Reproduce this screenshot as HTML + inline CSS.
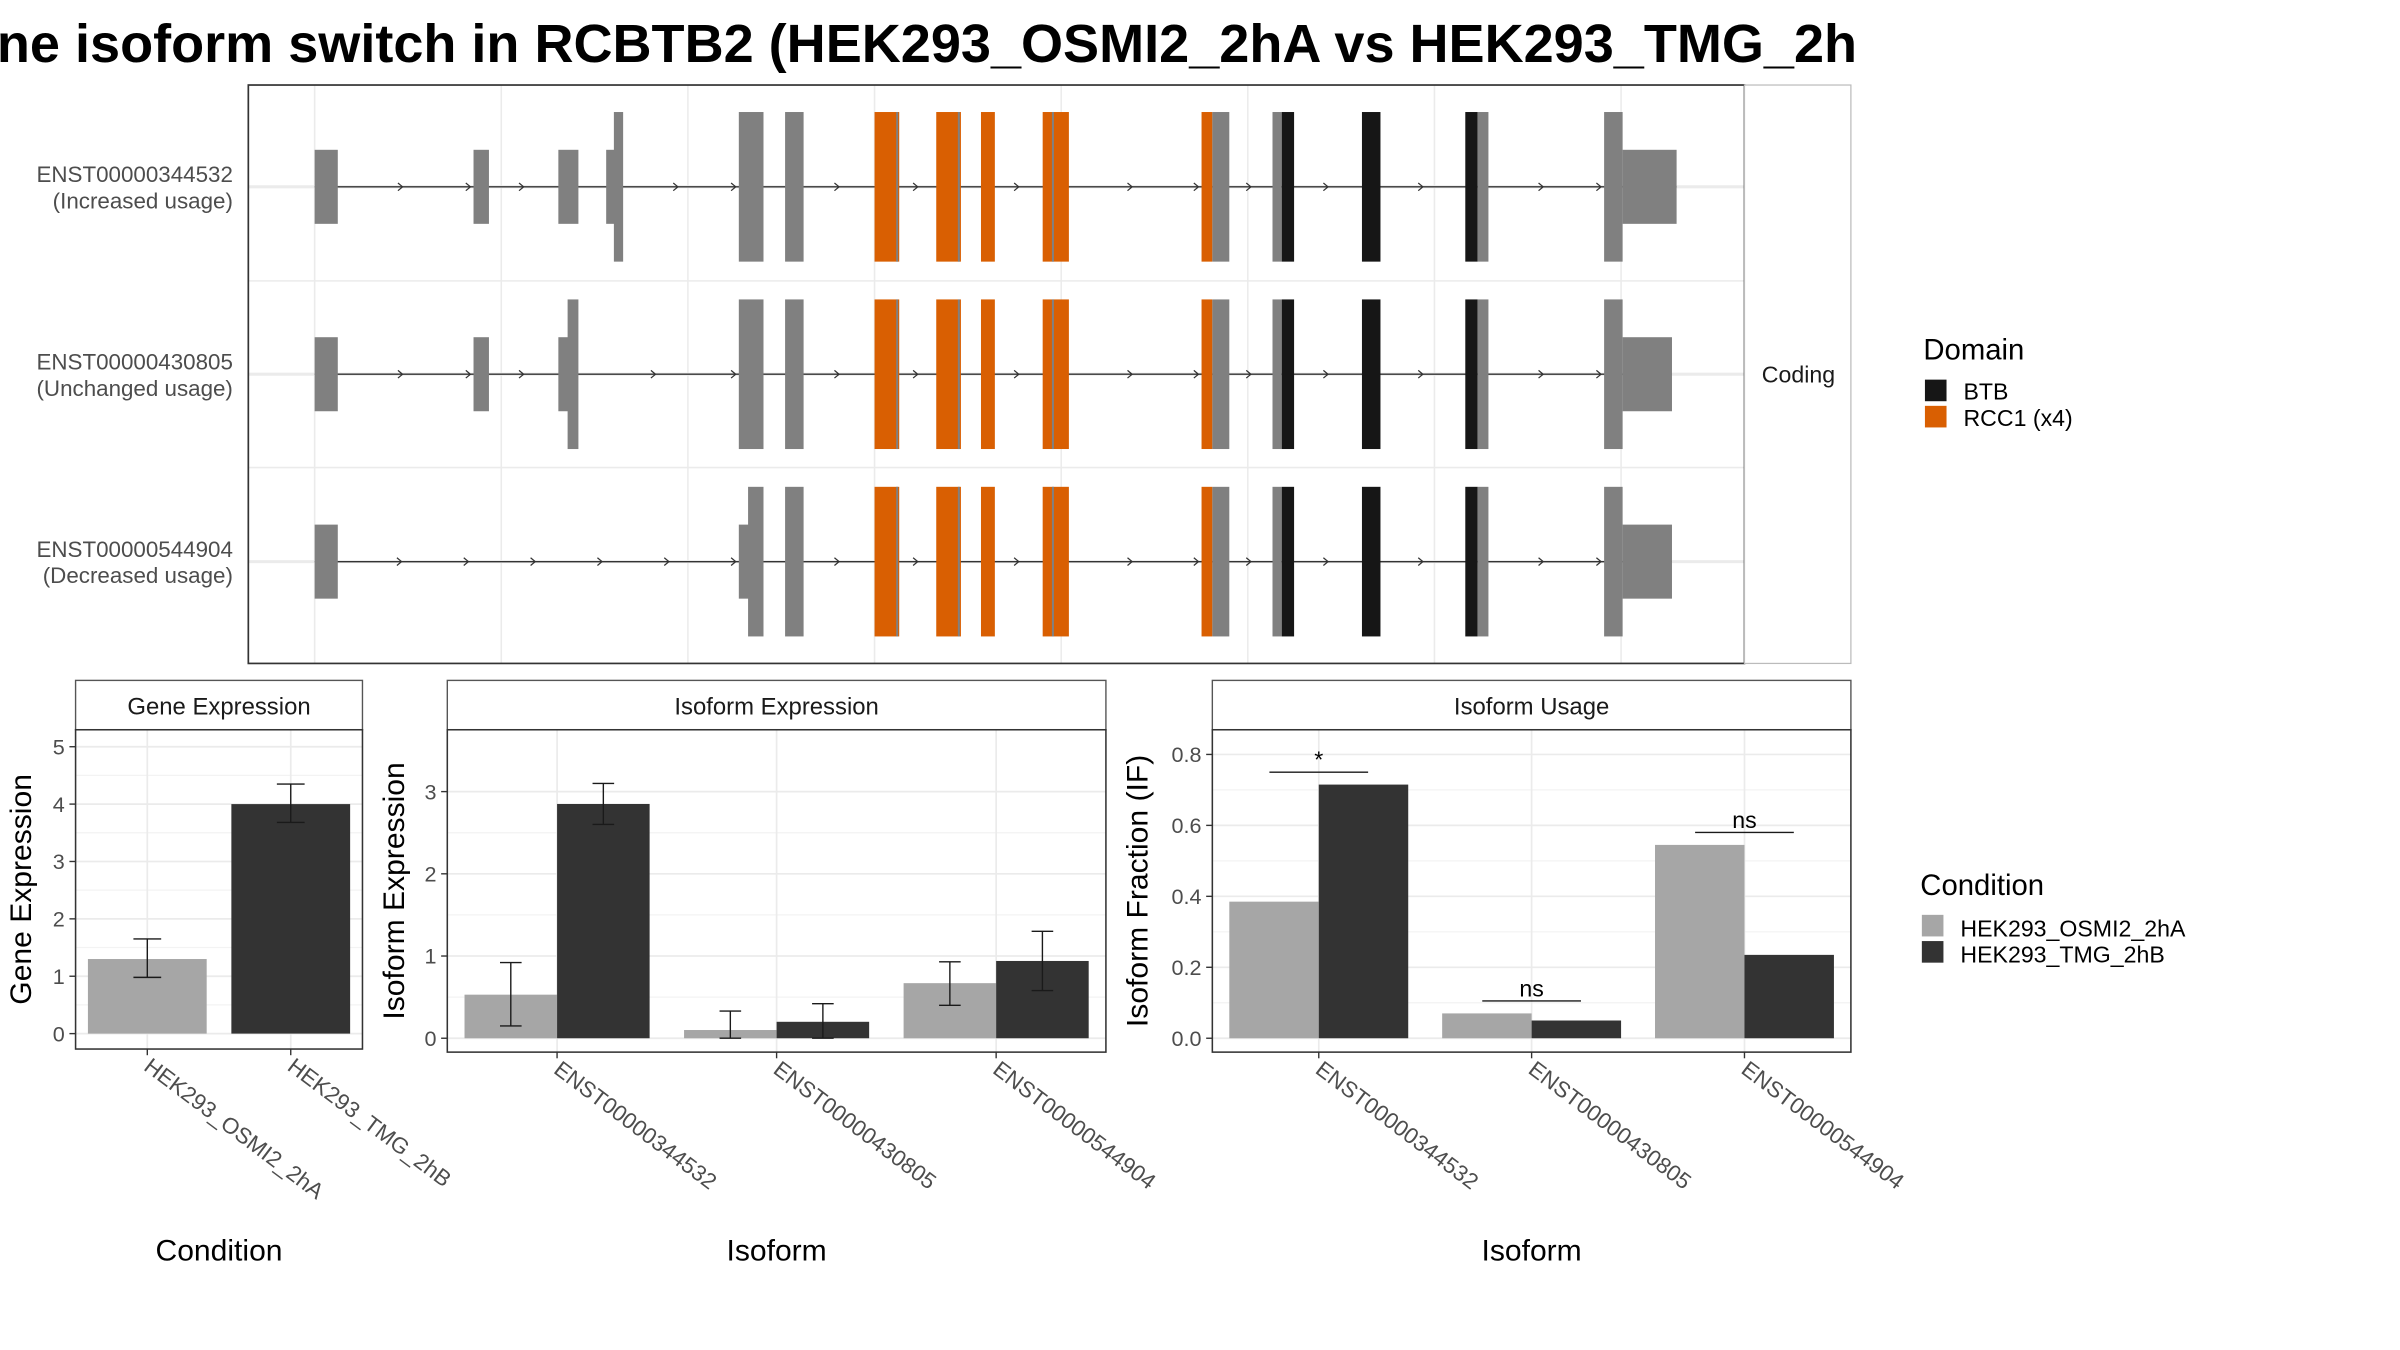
<!DOCTYPE html>
<html><head><meta charset="utf-8"><style>
html,body{margin:0;padding:0;background:#fff}
svg{display:block;font-family:"Liberation Sans",sans-serif}
</style></head><body>
<svg id="fig" width="2400" height="1350" viewBox="0 0 1556 875" xmlns="http://www.w3.org/2000/svg">
<text x="-2" y="40" font-size="35" font-weight="bold" textLength="1206" lengthAdjust="spacingAndGlyphs">ne isoform switch in RCBTB2 (HEK293_OSMI2_2hA vs HEK293_TMG_2h</text>
<g id="gene"></g>
<g id="ge"></g>
<g id="ie"></g>
<g id="iu"></g>
<g id="legend">
  <text x="1247" y="233" font-size="19">Domain</text>
  <rect x="1248" y="246" width="14" height="14" fill="#161616"/>
  <text x="1273" y="259" font-size="15">BTB</text>
  <rect x="1248" y="263" width="14" height="14" fill="#d95f02"/>
  <text x="1273" y="276" font-size="15">RCC1 (x4)</text>
  <text x="1245" y="580" font-size="19">Condition</text>
  <rect x="1246" y="593" width="14" height="14" fill="#a6a6a6"/>
  <text x="1271" y="607" font-size="15">HEK293_OSMI2_2hA</text>
  <rect x="1246" y="610" width="14" height="14" fill="#333333"/>
  <text x="1271" y="624" font-size="15">HEK293_TMG_2hB</text>
</g>
</svg>
<script>
// ---------- Gene structure data ----------
const transcripts = ["ENST00000344532","ENST00000430805","ENST00000544904"];
const usageLabels = ["(Increased usage)","(Unchanged usage)","(Decreased usage)"];
// exons: [start, end, type] type: s = small (UTR), t = tall (CDS); colour code g/o/k
const sharedExons = [[479,495,"t","g"],[509,521,"t","g"],[567,583,"t","o"],[607,623,"t","o"],[636,645,"t","o"],[676,693,"t","o"],[779,786,"t","o"],[786,797,"t","g"],[825,831,"t","g"],[831,839,"t","k"],[883,895,"t","k"],[950,958,"t","k"],[958,965,"t","g"],[1040,1052,"t","g"]];
const exons0 = [[204,219,"s","g"],[307,317,"s","g"],[362,375,"s","g"],[393,399,"s","g"],[398,404,"t","g"],[1052,1087,"s","g"]];
const exons1 = [[204,219,"s","g"],[307,317,"s","g"],[362,369,"s","g"],[368,375,"t","g"],[1052,1084,"s","g"]];
const exons2 = [[204,219,"s","g"],[479,486,"s","g"],[485,495,"t","g"],[1052,1084,"s","g"]];
const exonSets = [exons0.concat(sharedExons.filter(e=>e[0]!==479)), exons1.concat(sharedExons), exons2.concat(sharedExons.filter(e=>e[0]!==479))];
exonSets[0].push([479,495,"t","g"]);
const orangeSeams = [581,621,682];

// ---------- Bar chart data ----------
const conditions = ["HEK293_OSMI2_2hA","HEK293_TMG_2hB"];
const geneExpr = [1.3, 4.0];
const geneLo = [0.98, 3.68];
const geneHi = [1.65, 4.35];
const geneTicks = [0,1,2,3,4,5];
const isoforms = ["ENST00000344532","ENST00000430805","ENST00000544904"];
const isoExprA = [0.53, 0.10, 0.67];
const isoExprB = [2.85, 0.20, 0.94];
const isoExprALo = [0.15, 0.0, 0.40];
const isoExprAHi = [0.92, 0.33, 0.93];
const isoExprBLo = [2.60, 0.0, 0.58];
const isoExprBHi = [3.10, 0.42, 1.30];
const isoExprTicks = [0,1,2,3];
const ifA = [0.385, 0.07, 0.545];
const ifB = [0.715, 0.05, 0.235];
const ifTicks = [0.0,0.2,0.4,0.6,0.8];
const ifTickLabels = ["0.0","0.2","0.4","0.6","0.8"];
const sigLabels = ["*","ns","ns"];

const NS="http://www.w3.org/2000/svg";
function mk(parent, tag, attrs, text){
  const el=document.createElementNS(NS,tag);
  for(const k in attrs) el.setAttribute(k,attrs[k]);
  if(text!==undefined) el.textContent=text;
  parent.appendChild(el); return el;
}
const colorMap={g:"#808080",o:"#d95f02",k:"#161616"};

// ---------- Gene panel ----------
(function(){
  const g=document.getElementById('gene');
  const L=161,R=1131,T=55,B=430;
  const rowY=i=>121+i*121.5;
  const xg=v=>v; // genomic axis mapped to pixel domain
  const bg=mk(g,'rect',{x:L,y:T,width:R-L,height:B-T,fill:'#fff'});
  
  
  [204,325,446,567,688,809,930,1051].forEach(x=>{
    const l=mk(g,'line',{x1:x,x2:x,y1:T,y2:B,stroke:'#ebebeb','stroke-width':1});
    
    
  });
  [182,303].forEach(y=>{const l=mk(g,'line',{x1:L,x2:R,y1:y,y2:y,stroke:'#ebebeb','stroke-width':1});
    
    });
  transcripts.forEach((t,i)=>{
    const y=rowY(i);
    mk(g,'line',{x1:L,x2:R,y1:y,y2:y,stroke:'#ebebeb','stroke-width':2});
    const ex=exonSets[i];
    const xmin=Math.min(...ex.map(e=>e[0])), xmax=Math.max(...ex.map(e=>e[1]));
    const ln=mk(g,'line',{x1:xg(xmin),x2:xg(xmax),y1:y,y2:y,stroke:'#333','stroke-width':0.9});
    
    
    // arrows in introns
    const sorted=ex.slice().sort((a,b)=>a[0]-b[0]);
    for(let j=0;j<sorted.length-1;j++){
      const a=sorted[j][1], b=sorted[j+1][0];
      if(b-a>20){
        const n=Math.max(1,Math.round((b-a)/45));
        for(let k=1;k<=n;k++){
          const ax=a+(b-a)*k/(n+ (n>1?0:0)) - (k===n?2:0);
          const px=(n===1)? (a+b)/2 : a+(b-a)*k/n-2;
          mk(g,'path',{d:`M${px-3},${y-2.5} L${px},${y} L${px-3},${y+2.5}`,fill:'none',stroke:'#333','stroke-width':0.8});
        }
      }
    }
    ex.forEach(e=>{
      const h=e[2]==='t'?48.5:24;
      const r=mk(g,'rect',{x:xg(e[0]),y:y-h,width:xg(e[1])-xg(e[0]),height:2*h,fill:colorMap[e[3]]});
      
      
    });
    orangeSeams.forEach(s=>{mk(g,'rect',{x:s,y:y-48.5,width:1.3,height:97,fill:'#808080'});});
    const lab=mk(g,'text',{x:151,y:y-3,'font-size':14.5,fill:'#4d4d4d','text-anchor':'end'},t);
    
    
    const lab2=mk(g,'text',{x:151,y:y+14,'font-size':14.5,fill:'#4d4d4d','text-anchor':'end'},usageLabels[i]);
    
    
  });
  const border=mk(g,'rect',{x:L,y:T,width:R-L,height:B-T,fill:'none',stroke:'#333','stroke-width':1.1});
  
  
  const strip=mk(g,'rect',{x:R,y:T,width:69,height:B-T,fill:'#fff',stroke:'#bbb','stroke-width':0.8});
  
  
  const st=mk(g,'text',{x:1166,y:248,'font-size':15,'text-anchor':'middle',fill:'#1a1a1a'},'Coding');
  
  
})();

// ---------- generic bar panel ----------
function panel(gid, o){
  const g=document.getElementById(gid);
  const {L,R,T,B,y0,yPerUnit,title,ytitle,ytitleX,xtitle,cats,ticks,tickLabels}=o;
  const ys=v=>y0-v*yPerUnit;
  const strip=mk(g,'rect',{x:L,y:441,width:R-L,height:T-441,fill:'#fff',stroke:'#555','stroke-width':0.9});
  
  
  const stt=mk(g,'text',{x:(L+R)/2,y:463,'text-anchor':'middle','font-size':15.5,fill:'#1a1a1a'},title);
  
  
  mk(g,'rect',{x:L,y:T,width:R-L,height:B-T,fill:'#fff'});
  const step=(R-L)/cats.length;
  const cx=i=>L+step*(i+0.5);
  // minor grid
  for(let k=0;k<ticks.length-1;k++){const v=(ticks[k]+ticks[k+1])/2;mk(g,'line',{x1:L,x2:R,y1:ys(v),y2:ys(v),stroke:'#f3f3f3','stroke-width':0.8});}
  ticks.forEach((t,k)=>{
    mk(g,'line',{x1:L,x2:R,y1:ys(t),y2:ys(t),stroke:'#ebebeb','stroke-width':1.1});
    mk(g,'line',{x1:L-4,x2:L,y1:ys(t),y2:ys(t),stroke:'#333','stroke-width':0.9});
    const tl=mk(g,'text',{x:L-7,y:ys(t)+5,'text-anchor':'end','font-size':14,fill:'#4d4d4d'},tickLabels?tickLabels[k]:String(t));
    
    
  });
  cats.forEach((c,i)=>{
    mk(g,'line',{x1:cx(i),x2:cx(i),y1:T,y2:B,stroke:'#ebebeb','stroke-width':1.1});
    mk(g,'line',{x1:cx(i),x2:cx(i),y1:B,y2:B+4,stroke:'#333','stroke-width':0.9});
    const tl=mk(g,'text',{x:0,y:0,'font-size':14.5,fill:'#4d4d4d',transform:`translate(${cx(i)-3},${B+13}) rotate(37)`},c);
    
    
  });
  o.draw(g,cx,ys);
  const bd=mk(g,'rect',{x:L,y:T,width:R-L,height:B-T,fill:'none',stroke:'#333','stroke-width':1});
  
  
  const yt=mk(g,'text',{x:0,y:0,'text-anchor':'middle','font-size':19.5,fill:'#000',transform:`translate(${ytitleX},${(T+B)/2}) rotate(-90)`},ytitle);
  
  
  const xt=mk(g,'text',{x:(L+R)/2,y:817,'text-anchor':'middle','font-size':19.5,fill:'#000'},xtitle);
  
  
}
function errBar(g,x,lo,hi,ys,w){
  const p=mk(g,'path',{d:`M${x-w},${ys(hi)}H${x+w}M${x},${ys(hi)}V${ys(lo)}M${x-w},${ys(lo)}H${x+w}`,stroke:'#1a1a1a','stroke-width':0.9,fill:'none'});
  
  
}

panel('ge',{L:49,R:235,T:473,B:680,y0:670,yPerUnit:37.2,title:'Gene Expression',ytitle:'Gene Expression',ytitleX:20,xtitle:'Condition',cats:conditions,ticks:geneTicks,
  draw:(g,cx,ys)=>{
    const fills=['#a6a6a6','#333333'];
    conditions.forEach((c,i)=>{
      const b=mk(g,'rect',{x:cx(i)-38.5,y:ys(geneExpr[i]),width:77,height:ys(0)-ys(geneExpr[i]),fill:fills[i]});
      
      
      errBar(g,cx(i),geneLo[i],geneHi[i],ys,9);
    });
  }});

panel('ie',{L:290,R:717,T:473,B:682,y0:673,yPerUnit:53.3,title:'Isoform Expression',ytitle:'Isoform Expression',ytitleX:262,xtitle:'Isoform',cats:isoforms,ticks:isoExprTicks,
  draw:(g,cx,ys)=>{
    isoforms.forEach((c,i)=>{
      const a=mk(g,'rect',{x:cx(i)-60,y:ys(isoExprA[i]),width:60,height:ys(0)-ys(isoExprA[i]),fill:'#a6a6a6'});
      
      
      const b=mk(g,'rect',{x:cx(i),y:ys(isoExprB[i]),width:60,height:ys(0)-ys(isoExprB[i]),fill:'#333333'});
      
      
      errBar(g,cx(i)-30,isoExprALo[i],isoExprAHi[i],ys,7);
      errBar(g,cx(i)+30,isoExprBLo[i],isoExprBHi[i],ys,7);
    });
  }});

panel('iu',{L:786,R:1200,T:473,B:682,y0:673,yPerUnit:230,title:'Isoform Usage',ytitle:'Isoform Fraction (IF)',ytitleX:744,xtitle:'Isoform',cats:isoforms,ticks:ifTicks,tickLabels:ifTickLabels,
  draw:(g,cx,ys)=>{
    isoforms.forEach((c,i)=>{
      const a=mk(g,'rect',{x:cx(i)-58,y:ys(ifA[i]),width:58,height:ys(0)-ys(ifA[i]),fill:'#a6a6a6'});
      
      
      const b=mk(g,'rect',{x:cx(i),y:ys(ifB[i]),width:58,height:ys(0)-ys(ifB[i]),fill:'#333333'});
      
      
      const top=Math.max(ifA[i],ifB[i])+0.035;
      const l=mk(g,'line',{x1:cx(i)-32,x2:cx(i)+32,y1:ys(top),y2:ys(top),stroke:'#1a1a1a','stroke-width':0.9});
      
      
      const t=mk(g,'text',{x:cx(i),y:ys(top)-3,'text-anchor':'middle','font-size':15,fill:'#000'},sigLabels[i]);
      
      
    });
  }});
</script>
</body></html>
